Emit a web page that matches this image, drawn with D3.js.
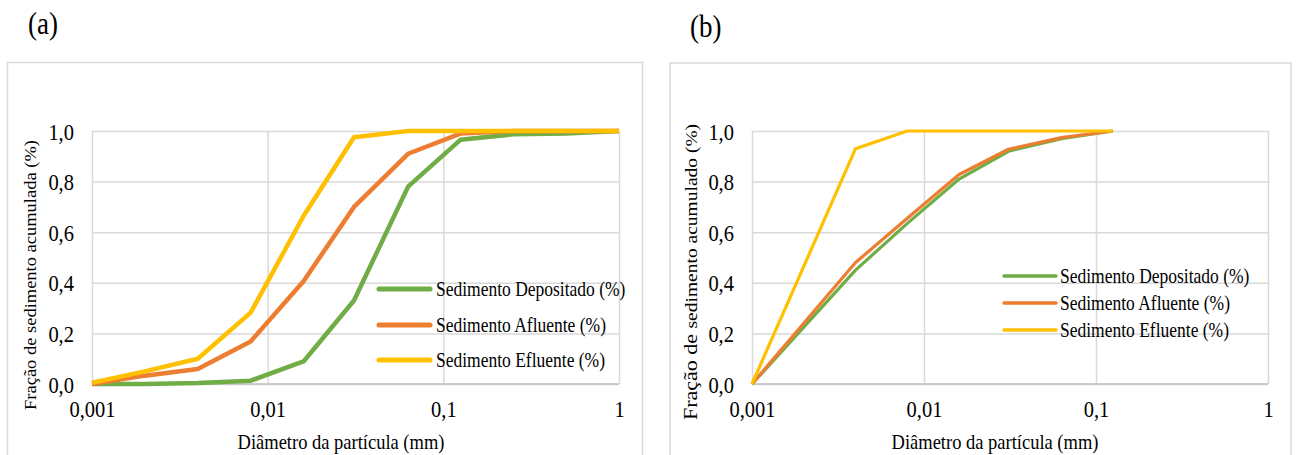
<!DOCTYPE html>
<html>
<head>
<meta charset="utf-8">
<script src="https://cdn.jsdelivr.net/npm/d3@7"></script>
<style>
  html, body { margin: 0; padding: 0; background: #fff; }
  svg { display: block; }
  text { font-family: "Liberation Serif", "Times New Roman", serif; fill: #000; }
</style>
</head>
<body>
<svg id="chart" width="1297" height="455"></svg>
<script>
// ---------- DATA ----------
const seriesNames = ["Sedimento Depositado (%)", "Sedimento Afluente (%)", "Sedimento Efluente (%)"];
const seriesColors = ["#70AD47", "#ED7D31", "#FFC000"];

const xTickValues = [0.001, 0.01, 0.1, 1];
const xTickLabels = ["0,001", "0,01", "0,1", "1"];
const yTickValues = [0, 0.2, 0.4, 0.6, 0.8, 1.0];
const yTickLabels = ["0,0", "0,2", "0,4", "0,6", "0,8", "1,0"];

// Panel (a)
const diametersA = [0.001, 0.002, 0.004, 0.008, 0.016, 0.031, 0.063, 0.125, 0.25, 0.5, 1];
const depositadoA = [0.0, 0.0, 0.004, 0.013, 0.089, 0.33, 0.78, 0.965, 0.987, 0.99, 1.0];
const afluenteA   = [0.0, 0.033, 0.059, 0.168, 0.406, 0.70, 0.91, 0.99, 1.0, 1.0, 1.0];
const efluenteA   = [0.005, 0.05, 0.10, 0.282, 0.664, 0.975, 1.0, 1.0, 1.0, 1.0, 1.0];

// Panel (b)
const diametersB = [0.001, 0.004, 0.008, 0.016, 0.031, 0.063, 0.125];
const depositadoB = [0.0, 0.45, 0.635, 0.81, 0.92, 0.97, 1.0];
const afluenteB   = [0.0, 0.48, 0.655, 0.828, 0.928, 0.974, 1.0];
const efluenteB   = [0.0, 0.93, 1.0, 1.0, 1.0, 1.0, 1.0];

// ---------- DRAW ----------
const svg = d3.select("#chart");
const SY = 1.15;   // vertical stretch of horizontal text (reference looks horizontally condensed)
const RX = 0.88;   // glyph-height squeeze for rotated titles

function hText(sel, x, y, size, str, anchor) {
  return sel.append("text")
    .attr("transform", `translate(${x},${y}) scale(1,${SY})`)
    .attr("text-anchor", anchor || "start")
    .attr("font-size", size).text(str);
}

function drawPanel(cfg) {
  const g = svg.append("g");
  g.append("rect")
    .attr("x", cfg.box[0]).attr("y", cfg.box[1])
    .attr("width", cfg.box[2]).attr("height", cfg.box[3])
    .attr("fill", "#fff").attr("stroke", "#D9D9D9").attr("stroke-width", 1.5);

  hText(svg, cfg.label.x, cfg.label.y, 27, cfg.label.text);

  const x = d3.scaleLog().domain([0.001, 1]).range([cfg.left, cfg.right]);
  const y = d3.scaleLinear().domain([0, 1]).range([cfg.bottom, cfg.top]);

  // gridlines
  const yGrid = d3.axisLeft(y).tickValues(yTickValues).tickSize(-(cfg.right - cfg.left)).tickFormat("");
  g.append("g").attr("transform", `translate(${cfg.left},0)`).call(yGrid)
    .call(s => s.select(".domain").remove())
    .call(s => s.selectAll("line").attr("stroke", "#D9D9D9").attr("stroke-width", 1.5));
  const xGrid = d3.axisBottom(x).tickValues(xTickValues).tickSize(-(cfg.bottom - cfg.top)).tickFormat("");
  g.append("g").attr("transform", `translate(0,${cfg.bottom})`).call(xGrid)
    .call(s => s.select(".domain").remove())
    .call(s => s.selectAll("line").attr("stroke", "#D9D9D9").attr("stroke-width", 1.5));
  g.append("line").attr("x1", cfg.left).attr("x2", cfg.right)
    .attr("y1", y(0)).attr("y2", y(0)).attr("stroke", "#BFBFBF").attr("stroke-width", 1.5);

  // tick labels via axes
  const xAxis = d3.axisBottom(x).tickValues(xTickValues)
    .tickFormat((d, i) => xTickLabels[i]).tickSize(0).tickPadding(0);
  g.append("g").attr("transform", `translate(0,${cfg.bottom})`).call(xAxis)
    .call(s => s.select(".domain").remove())
    .call(s => s.selectAll("text").attr("font-size", 20.5).attr("font-family", null)
      .attr("fill", "#000").attr("dy", null).attr("y", null)
      .attr("transform", `translate(0,${cfg.xTickBaseline - cfg.bottom}) scale(1,${SY})`));
  const yAxis = d3.axisLeft(y).tickValues(yTickValues)
    .tickFormat((d, i) => yTickLabels[i]).tickSize(0).tickPadding(0);
  g.append("g").attr("transform", `translate(${cfg.left},0)`).call(yAxis)
    .call(s => s.select(".domain").remove())
    .call(s => s.selectAll("text").attr("font-size", 20.5).attr("font-family", null)
      .attr("fill", "#000").attr("x", null).attr("dy", "0.34em")
      .attr("transform", `translate(-18,0) scale(1,${SY})`));

  // lines
  const line = d3.line().x(d => x(d[0])).y(d => y(d[1]));
  cfg.series.forEach((vals, i) => {
    const pts = cfg.xs.map((xv, j) => [xv, vals[j]]);
    g.append("path").datum(pts).attr("d", line)
      .attr("fill", "none").attr("stroke", seriesColors[i])
      .attr("stroke-width", cfg.lineWidth).attr("stroke-linejoin", "round");
  });

  // legend
  seriesNames.forEach((name, i) => {
    const ly = cfg.legend.ys[i];
    g.append("line").attr("x1", cfg.legend.x1).attr("x2", cfg.legend.x2)
      .attr("y1", ly).attr("y2", ly).attr("stroke", seriesColors[i])
      .attr("stroke-width", cfg.legendWidth).attr("stroke-linecap", "round");
    hText(g, cfg.legend.tx, ly, cfg.legend.fs, name).attr("dy", "0.33em");
  });

  // axis titles
  hText(g, cfg.xTitle.x, cfg.xTitle.y, 18.5, "Diâmetro da partícula (mm)", "middle");
  const yt = g.append("text")
    .attr("transform", `translate(${cfg.yTitle.x},${cfg.yTitle.y}) rotate(-90) scale(1,${RX})`)
    .attr("text-anchor", "middle");
  cfg.yTitle.parts.forEach(p => yt.append("tspan").attr("font-size", p[1]).text(p[0]));
}

drawPanel({
  box: [7.5, 62.5, 635, 400],
  label: { x: 28, y: 34, text: "(a)" },
  left: 92, right: 619, top: 131, bottom: 384,
  xTickBaseline: 417,
  xs: diametersA, series: [depositadoA, afluenteA, efluenteA],
  lineWidth: 4.5, legendWidth: 5,
  legend: { x1: 379, x2: 430, tx: 436, ys: [289, 325, 360], fs: 17.5 },
  xTitle: { x: 341, y: 449 },
  yTitle: { x: 36, y: 275, parts: [["Fração de sedimento acumulada (%)", 18.5]] }
});

drawPanel({
  box: [670, 63, 621, 400],
  label: { x: 690, y: 37, text: "(b)" },
  left: 752, right: 1268, top: 131, bottom: 384,
  xTickBaseline: 417,
  xs: diametersB, series: [depositadoB, afluenteB, efluenteB],
  lineWidth: 3.2, legendWidth: 3.5,
  legend: { x1: 1004, x2: 1056, tx: 1060, ys: [276, 303, 330], fs: 17.5 },
  xTitle: { x: 995, y: 449 },
  yTitle: { x: 697, y: 272, parts: [["Fração de ", 22], ["sedimento acumulado (%)", 19.5]] }
});
</script>
</body>
</html>
